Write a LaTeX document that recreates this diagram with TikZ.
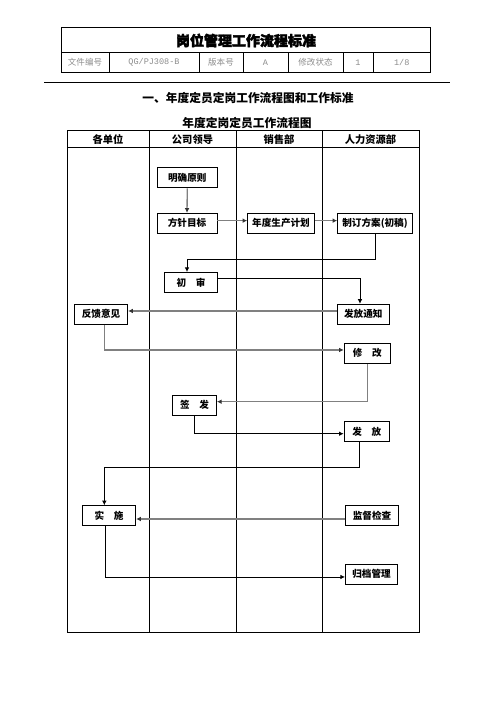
\documentclass[tikz,border=0pt]{standalone}
\usepackage{fontspec}
\newfontfamily\cjk{Noto Sans CJK SC}
\newfontfamily\cjkheavy{Noto Sans CJK SC}[FakeBold=2.5]
\newfontfamily\monofont{Liberation Mono}
\usetikzlibrary{arrows.meta,positioning}

\begin{document}
\begin{tikzpicture}[
    x=0.75pt, y=-0.75pt,
    font=\cjk,
    rule/.style={line width=0.75pt},
    task/.style={
        draw,
        line width=0.7pt,
        minimum width=#1,
        minimum height=15pt,
        inner sep=0pt,
        font=\cjk\bfseries\fontsize{7.2}{8}\selectfont
    },
    task/.default=45pt,
    cell/.style={
        text=gray!90,
        font=\cjk\fontsize{6.4}{7}\selectfont
    },
    lane/.style={font=\cjk\bfseries\fontsize{7.7}{9}\selectfont},
    flow/.style={-{Latex[length=3.5pt,width=3.5pt]},line width=0.7pt},
    back/.style={-{Latex[length=3.5pt,width=3.5pt,fill=black!80,color=black!80]},
        draw=black!50,line width=1pt}
]
\useasboundingbox (0,0) rectangle (496,702);

% document header
\draw[rule] (61.7,28) rectangle (430.7,73);
\draw[rule] (61.7,53) -- (430.7,53);
\foreach \cx in {109,199,243,288,343,373}
    \draw[rule] (\cx,53) -- (\cx,73);
\node[font=\cjkheavy\bfseries\fontsize{10.5}{12}\selectfont] (doctitle) at (246,40.5) {岗位管理工作流程标准};
\node[cell] (c1) at (85,62.5) {文件编号};
\node[cell,font=\monofont\fontsize{6.4}{7}\selectfont] (c2) at (154,62.5) {QG/PJ308-B};
\node[cell] (c3) at (221,62.5) {版本号};
\node[cell,font=\monofont\fontsize{6.4}{7}\selectfont] (c4) at (265.5,62.5) {A};
\node[cell] (c5) at (315.5,62.5) {修改状态};
\node[cell,font=\monofont\fontsize{6.4}{7}\selectfont] (c6) at (358,62.5) {1};
\node[cell,font=\monofont\fontsize{6.4}{7}\selectfont] (c7) at (401.8,62.5) {1/8};
\draw[rule] (44,83) -- (450,83);

\node[font=\cjk\bfseries\fontsize{8.8}{10}\selectfont] (title) at (248,98) {一、年度定员定岗工作流程图和工作标准};
\node[font=\cjk\bfseries\fontsize{8.8}{10}\selectfont] (subtitle) at (247,123.5) {年度定岗定员工作流程图};

% swim lanes
\draw[rule] (67,130.7) rectangle (419,632);
\draw[rule] (67,148) -- (419,148);
\foreach \lx in {149,236,322}
    \draw[rule] (\lx,130.7) -- (\lx,632);
\node[lane] (l1) at (108,139.3) {各单位};
\node[lane] (l2) at (192.5,139.3) {公司领导};
\node[lane] (l3) at (279,139.3) {销售部};
\node[lane] (l4) at (370.5,139.3) {人力资源部};

% steps
\node[task] (mingque) at (187.3,177.8) {明确原则};
\node[task] (fangzhen) at (187,223.3) {方针目标};
\node[task=50pt] (niandu) at (281,223.3) {年度生产计划};
\node[task=56pt] (zhiding) at (375,223.3) {制订方案(初稿)};
\node[task=40pt] (chushen) at (191,282.5) {初\hspace{1em}审};
\node[task=39pt] (fafangtz) at (363.3,314.3) {发放通知};
\node[task=40pt] (fankui) at (101,314.3) {反馈意见};
\node[task=34.5pt] (xiugai) at (367.2,353.3) {修\hspace{1em}改};
\node[task=33pt] (qianfa) at (194.5,405.3) {签\hspace{1em}发};
\node[task=34pt] (fafang) at (366.8,431.7) {发\hspace{1em}放};
\node[task=40pt] (shishi) at (109,515.8) {实\hspace{1em}施};
\node[task=40pt] (jiandu) at (372,515.8) {监督检查};
\node[task=39pt] (guidang) at (371.5,574.3) {归档管理};

% connectors
\draw[back] (mingque.south) -- (fangzhen.north);
\draw[back] ([yshift=2pt]fangzhen.east) -- ([yshift=2pt]niandu.west);
\draw[back] ([yshift=2pt]niandu.east) -- ([yshift=2pt]zhiding.west);
\draw[flow] (zhiding.south) -- ++(0,26) -| ([xshift=-3pt]chushen.north);
\draw[flow] ([yshift=3pt]chushen.east) -| ([xshift=-2.5pt]fafangtz.north);
\draw[back] ([yshift=2.5pt]fafangtz.west) -- ([yshift=2.5pt]fankui.east);
\draw[back] ([xshift=2.5pt]fankui.south) |- ([yshift=2.5pt]xiugai.west);
\draw[back] (xiugai.south) |- ([yshift=2.7pt]qianfa.east);
\draw[flow] (qianfa.south) |- ([yshift=-1.5pt]fafang.west);
\draw[flow] ([xshift=-5.6pt]fafang.south) -- ++(0,25.6) -| ([xshift=-3.5pt]shishi.north);
\draw[back] ([yshift=-2.4pt]jiandu.west) -- ([yshift=-2.4pt]shishi.east);
\draw[flow] ([xshift=-3pt]shishi.south) |- ([yshift=-2pt]guidang.west);

\end{tikzpicture}
\end{document}
